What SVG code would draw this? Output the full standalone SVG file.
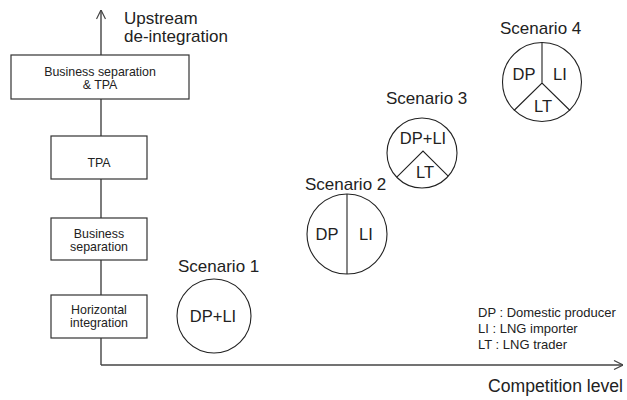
<svg xmlns="http://www.w3.org/2000/svg" width="627" height="400" viewBox="0 0 627 400">
  <style>
    text { font-family: "Liberation Sans", Arial, sans-serif; fill: #222; }
    .axis { stroke: #444; stroke-width: 1.4; fill: none; }
    .box { fill: #fff; stroke: #333; stroke-width: 1.2; }
    .box-text { font-size: 12.4px; text-anchor: middle; }
    .ring { fill: #fff; stroke: #222; stroke-width: 1.1; }
    .split { stroke: #222; stroke-width: 1.1; fill: none; }
    .title { font-size: 17px; }
    .part { font-size: 16.5px; text-anchor: middle; }
    .legend { font-size: 13px; }
  </style>
  <defs>
    <marker id="open-arrow" viewBox="0 0 10 10" refX="10" refY="5" markerWidth="10" markerHeight="10" markerUnits="userSpaceOnUse" orient="auto">
      <path d="M1,0.5 L10,5 L1,9.5" fill="none" stroke="#444" stroke-width="1.2"/>
    </marker>
  </defs>

  <!-- axes -->
  <g id="connectors">
    <path class="axis" d="M101,365 L101,10" marker-end="url(#open-arrow)"/>
    <path class="axis" d="M101,365 L623,365" marker-end="url(#open-arrow)"/>
  </g>

  <g id="axis-labels">
    <text class="title" x="124" y="24">Upstream</text>
    <text class="title" x="124" y="42">de-integration</text>
    <text class="title" x="623" y="392" text-anchor="end" style="font-size:17.6px">Competition level</text>
  </g>

  <!-- regulation levels on the vertical axis -->
  <g id="box-bs-tpa">
    <rect class="box" x="11" y="55" width="178" height="44"/>
    <text class="box-text" x="100" y="76">Business separation</text>
    <text class="box-text" x="100" y="89">&amp; TPA</text>
  </g>
  <g id="box-tpa">
    <rect class="box" x="51" y="136" width="96" height="43"/>
    <text class="box-text" x="99" y="167">TPA</text>
  </g>
  <g id="box-bs">
    <rect class="box" x="51" y="218" width="96" height="42"/>
    <text class="box-text" x="99" y="238">Business</text>
    <text class="box-text" x="99" y="251">separation</text>
  </g>
  <g id="box-hi">
    <rect class="box" x="51" y="295" width="96" height="43"/>
    <text class="box-text" x="99" y="314">Horizontal</text>
    <text class="box-text" x="99" y="327">integration</text>
  </g>

  <!-- scenarios -->
  <g id="scenario-1">
    <text class="title" x="178" y="272">Scenario 1</text>
    <circle class="ring" cx="214" cy="316" r="37"/>
    <text class="part" x="213" y="322">DP+LI</text>
  </g>
  <g id="scenario-2">
    <text class="title" x="305" y="190">Scenario 2</text>
    <circle class="ring" cx="347" cy="234" r="40"/>
    <line class="split" x1="347" y1="194" x2="347" y2="274"/>
    <text class="part" x="327" y="240">DP</text>
    <text class="part" x="366" y="240">LI</text>
  </g>
  <g id="scenario-3">
    <text class="title" x="386" y="104">Scenario 3</text>
    <circle class="ring" cx="422" cy="153" r="35"/>
    <path class="split" d="M396.8,177.2 L423,151 L448.2,176.2"/>
    <text class="part" x="423" y="144">DP+LI</text>
    <text class="part" x="425" y="178">LT</text>
  </g>
  <g id="scenario-4">
    <text class="title" x="500" y="34">Scenario 4</text>
    <circle class="ring" cx="542" cy="82" r="39.5"/>
    <path class="split" d="M542,42.5 L542,83 M514,110.5 L542,83 L570,110.5"/>
    <text class="part" x="524" y="80">DP</text>
    <text class="part" x="560" y="80">LI</text>
    <text class="part" x="543" y="112">LT</text>
  </g>

  <g id="legend">
    <text class="legend" x="478" y="317">DP : Domestic producer</text>
    <text class="legend" x="478" y="333">LI : LNG importer</text>
    <text class="legend" x="478" y="349">LT : LNG trader</text>
  </g>
</svg>
